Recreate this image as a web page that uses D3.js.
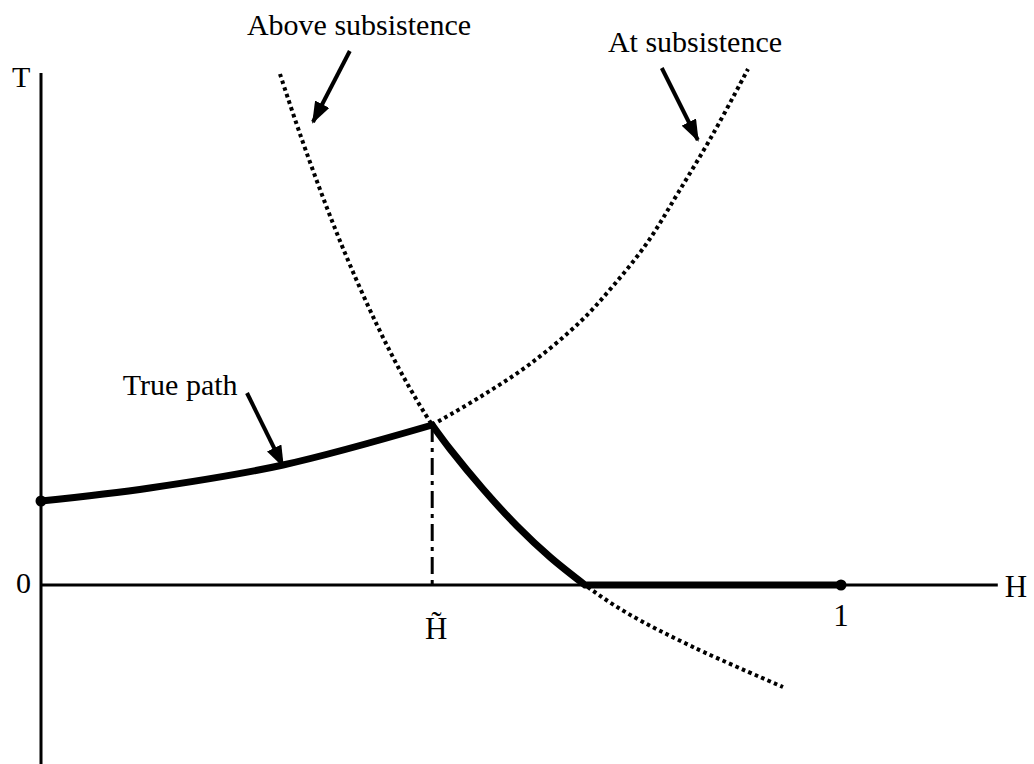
<!DOCTYPE html>
<html>
<head>
<meta charset="utf-8">
<script src="https://cdn.jsdelivr.net/npm/d3@7"></script>
<style>
  html, body { margin: 0; padding: 0; background: #fff; }
  svg text { font-family: "Liberation Serif", "Times New Roman", serif; fill: #000; }
</style>
</head>
<body>
<div id="chart"></div>
<script>
// curves: H (share) and T (arbitrary units)
const aboveH = [0.29875, 0.32375, 0.3575, 0.38625, 0.42, 0.4525, 0.489, 0.51125, 0.5525, 0.595, 0.63625, 0.68, 0.7325, 0.815, 0.9275];
const aboveT = [5.11, 4.51, 3.77, 3.20, 2.60, 2.09, 1.60, 1.36, 0.96, 0.59, 0.28, 0.0, -0.28, -0.62, -1.02];

const atH = [0, 0.136, 0.3025, 0.489, 0.54875, 0.61125, 0.67375, 0.715, 0.7575, 0.79625, 0.84, 0.88375];
const atT = [0.84, 0.97, 1.20, 1.60, 1.88, 2.21, 2.63, 2.99, 3.42, 3.92, 4.51, 5.16];

const hTilde = 0.489;   // kink of the true path
const hZero = 0.68;     // where the true path reaches T = 0
const hEnd = 1;

// tick labels
const xTicks = [{v: 1, label: '1'}, {v: hTilde, label: 'H\u0303', dx: 4, dy: 54}];
const yTicks = [{v: 0, label: '0'}];

// annotations: label + arrow (tail -> tip), in data units
const notes = [
  {text: 'Above subsistence', tx: 0.3975, ty: 5.50, from: [0.386, 5.34], to: [0.34, 4.63]},
  {text: 'At subsistence', tx: 0.8175, ty: 5.33, from: [0.776, 5.17], to: [0.821, 4.45]},
  {text: 'True path', tx: 0.174, ty: 1.90, from: [0.2575, 1.92], to: [0.3025, 1.19]}
];

const width = 1034, height = 764;

const x = d3.scaleLinear().domain([0, 1]).range([41, 841]);
const y = d3.scaleLinear().domain([0, 1]).range([585, 485]);

const svg = d3.select('#chart')
  .append('svg')
  .attr('width', width)
  .attr('height', height);

svg.append('defs')
  .append('marker')
  .attr('id', 'head')
  .attr('markerUnits', 'userSpaceOnUse')
  .attr('viewBox', '0 0 22 16')
  .attr('refX', 20)
  .attr('refY', 8)
  .attr('markerWidth', 22)
  .attr('markerHeight', 16)
  .attr('orient', 'auto')
  .append('path')
  .attr('d', 'M0,0 L22,8 L0,16 Z')
  .attr('fill', '#000');

// axes
svg.append('line')
  .attr('x1', x(0)).attr('x2', x(0))
  .attr('y1', y(5.12)).attr('y2', y(-1.8))
  .attr('stroke', '#000').attr('stroke-width', 3);

svg.append('line')
  .attr('x1', x(0)).attr('x2', x(1.196))
  .attr('y1', y(0)).attr('y2', y(0))
  .attr('stroke', '#000').attr('stroke-width', 3);

svg.append('text').attr('x', 12).attr('y', y(5.12) + 14)
  .attr('font-size', 30).text('T');
svg.append('text').attr('x', x(1.196) + 7).attr('y', y(0) + 12)
  .attr('font-size', 31).text('H');

svg.selectAll('.ytick').data(yTicks).enter().append('text')
  .attr('x', x(0) - 10).attr('y', d => y(d.v) + 8)
  .attr('text-anchor', 'end').attr('font-size', 30)
  .text(d => d.label);

svg.selectAll('.xtick').data(xTicks).enter().append('text')
  .attr('x', d => x(d.v) + (d.dx || 0)).attr('y', d => y(0) + (d.dy || 41))
  .attr('text-anchor', 'middle').attr('font-size', 31)
  .text(d => d.label);

const line = d3.line()
  .x(d => x(d[0]))
  .y(d => y(d[1]))
  .curve(d3.curveCatmullRom.alpha(0.5));

const abovePts = aboveH.map((h, i) => [h, aboveT[i]]);
const atPts = atH.map((h, i) => [h, atT[i]]);

// dotted curves (the left part of "at subsistence" lies under the true path)
svg.append('path').attr('d', line(abovePts))
  .attr('fill', 'none').attr('stroke', '#000')
  .attr('stroke-width', 4).attr('stroke-dasharray', '3.6,3.4');

svg.append('path').attr('d', line(atPts.filter(d => d[0] >= hTilde)))
  .attr('fill', 'none').attr('stroke', '#000')
  .attr('stroke-width', 4).attr('stroke-dasharray', '3.6,3.4');

// dash-dot at H tilde
const peakT = atT[atH.indexOf(hTilde)];
svg.append('line')
  .attr('x1', x(hTilde)).attr('x2', x(hTilde))
  .attr('y1', y(peakT)).attr('y2', y(0))
  .attr('stroke', '#000').attr('stroke-width', 3)
  .attr('stroke-dasharray', '17,6,4,6');

// true path: at subsistence, then above subsistence, then T = 0
const seg1 = atPts.filter(d => d[0] <= hTilde);
const seg2 = abovePts.filter(d => d[0] >= hTilde && d[0] <= hZero);
const seg3 = [[hZero, 0], [hEnd, 0]];
const truePath = line(seg1) + line(seg2).replace(/^M/, 'L') + line(seg3).replace(/^M/, 'L');

svg.append('path').attr('d', truePath)
  .attr('fill', 'none').attr('stroke', '#000')
  .attr('stroke-width', 7).attr('stroke-linejoin', 'miter');

svg.selectAll('.end').data([[0, atT[0]], [hEnd, 0]]).enter().append('circle')
  .attr('cx', d => x(d[0])).attr('cy', d => y(d[1]))
  .attr('r', 5.5).attr('fill', '#000');

// annotations
const note = svg.selectAll('.note').data(notes).enter().append('g');

note.append('text')
  .attr('x', d => x(d.tx)).attr('y', d => y(d.ty))
  .attr('text-anchor', 'middle').attr('font-size', 30)
  .text(d => d.text);

note.append('line')
  .attr('x1', d => x(d.from[0])).attr('y1', d => y(d.from[1]))
  .attr('x2', d => x(d.to[0])).attr('y2', d => y(d.to[1]))
  .attr('stroke', '#000').attr('stroke-width', 4)
  .attr('marker-end', 'url(#head)');
</script>
</body>
</html>
